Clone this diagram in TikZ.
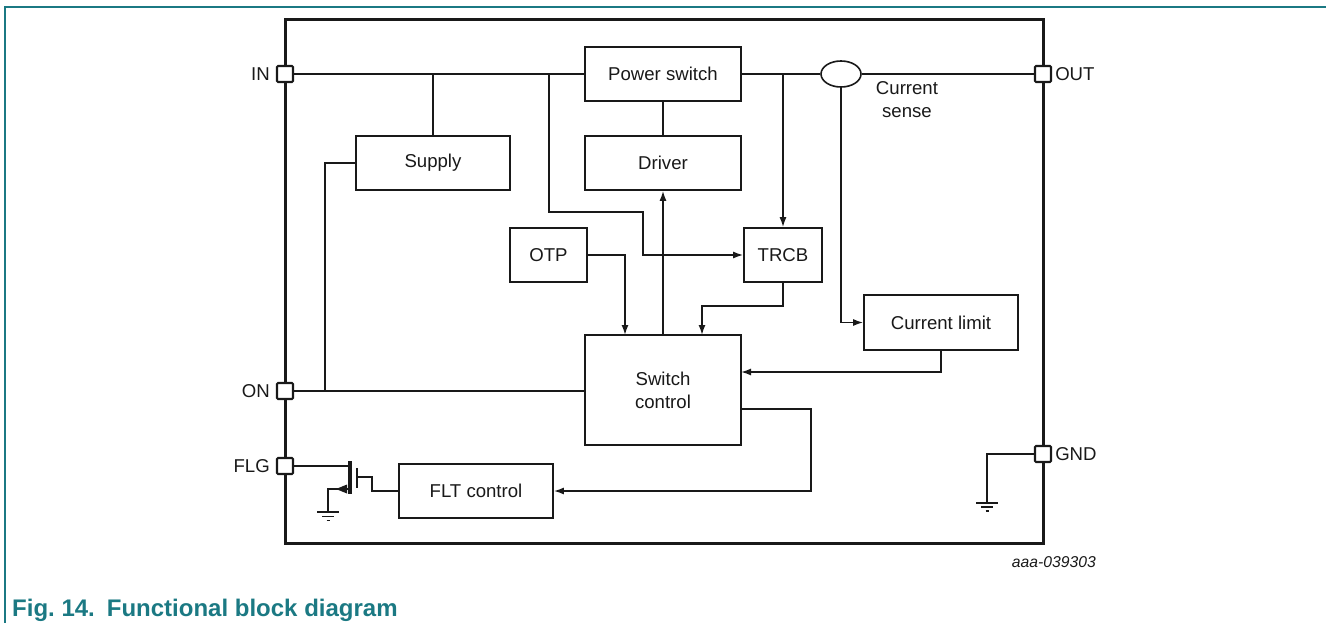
\documentclass[tikz,border=0pt]{standalone}
\usepackage{fontspec}
\setmainfont{Liberation Sans}
\usetikzlibrary{arrows.meta,shapes.geometric,positioning}
\definecolor{teal1}{RGB}{27,121,131}
\definecolor{ink}{RGB}{25,25,25}
\begin{document}
\begin{tikzpicture}[x=1pt,y=-1pt,
  font=\fontsize{18.6}{23}\selectfont,
  blk/.style={draw=ink, fill=white, line width=1.6pt, minimum width=156pt, minimum height=54pt, inner sep=0pt, align=center, text=ink},
  wire/.style={draw=ink, line width=1.6pt},
  arr/.style={wire, -{Latex[length=10pt,width=7pt]}},
  pin/.style={draw=ink, fill=white, line width=2.1pt, minimum size=16pt, inner sep=0pt, rounded corners=1pt},
  lbl/.style={inner sep=0pt, text=ink}]
\useasboundingbox (0,0) rectangle (1326,623);
% outer teal frame
\draw[teal1, line width=2pt] (5,623) -- (5,7.5) -- (1326,7.5);
% chip outline
\draw[ink, line width=3pt] (285,20) rectangle (1043,543);
% blocks
\node[blk] (PS) at (663,74) {Power switch};
\node[blk] (DRV) at (663,163) {Driver};
\node[blk, minimum width=154pt] (SUP) at (433,163) {Supply};
\node[blk, minimum width=77pt] (OTP) at (548.5,255) {OTP};
\node[blk, minimum width=78pt] (TRCB) at (783,255) {TRCB};
\node[blk, minimum height=110pt] (SC) at (663,390) {Switch\\control};
\node[blk, minimum width=154pt, minimum height=55pt] (CL) at (941,322.5) {Current limit};
\node[blk, minimum width=154pt] (FLT) at (476,491) {FLT control};
\node[draw=ink, fill=white, ellipse, minimum width=40pt, minimum height=26pt, inner sep=0pt, line width=1.6pt] (CS) at (841,74) {};
% pins
\node[pin] (pIN) at (285,74) {};
\node[pin] (pON) at (285,391) {};
\node[pin] (pFLG) at (285,466) {};
\node[pin] (pOUT) at (1043,74) {};
\node[pin] (pGND) at (1043,454) {};
% pin labels
\node[lbl, left=6pt of pIN] (tIN) {IN};
\node[lbl, left=6pt of pON] (tON) {ON};
\node[lbl, left=6pt of pFLG] (tFLG) {FLG};
\node[lbl, right=3pt of pOUT] (tOUT) {OUT};
\node[lbl, right=3pt of pGND] (tGND) {GND};
\node[lbl, align=center] (tCS) at (907,99.5) {Current\\sense};
% junction / bend coordinates
\coordinate (b1) at (549,74);
\coordinate (b2) at (325,391);
\coordinate (sc1) at (625,335);
\coordinate (sc2) at (702,335);
\coordinate (sc3) at (741,372);
\coordinate (sc4) at (741,409);
% IN bus
\draw[wire] (pIN.east) -- (pIN.east -| PS.west);
\draw[wire] (SUP.north |- pIN) -- (SUP.north);
\draw[arr] (b1) -- (549,212) -- (643,212) -- (643,255) -- (TRCB.west);
% output path
\draw[wire] (PS.east) -- (CS.west);
\draw[wire] (CS.east) -- (pOUT.west);
\draw[arr] (TRCB.north |- PS.east) -- (TRCB.north);
\draw[arr] (CS.south) |- (CL.west);
% driver
\draw[wire] (PS.south) -- (DRV.north);
\draw[arr] (SC.north) -- (DRV.south);
% into switch control
\draw[arr] (OTP.east) -| (sc1);
\draw[arr] (TRCB.south) -- (783,306) -| (sc2);
\draw[arr] (CL.south) |- (sc3);
\draw[arr] (sc4) -- (811,409) |- (FLT.east);
% ON
\draw[wire] (pON.east) -- (pON.east -| SC.west);
\draw[wire] (b2) |- (SUP.west);
% FLG transistor
\draw[wire] (pFLG.east) -- (350,466);
\draw[ink, line width=3.2pt] (350,461) -- (350,494);
\draw[ink, line width=1.8pt] (357,468) -- (357,488);
\draw[wire] (357,477) -- (372,477) -- (372,491) -- (FLT.west);
\draw[wire] (348.5,489) -- (328,489) -- (328,512);
\fill[ink] (336,489) -- (347,484.5) -- (347,493.5) -- cycle;
\draw[wire] (317,512) -- (339,512) (322,516.5) -- (334,516.5) (326.5,520.5) -- (329.5,520.5);
% GND
\draw[wire] (pGND.west) -| (987,503);
\draw[wire] (976,503) -- (998,503) (981,507) -- (993,507) (985.5,511) -- (988.5,511);
% reference code and caption
\node[anchor=east, inner sep=0pt, text=ink, font=\itshape\fontsize{15.7}{18}\selectfont] (ref) at (1096,562) {aaa-039303};
\node[anchor=base west, inner sep=0pt, text=teal1, font=\bfseries\fontsize{24}{28}\selectfont] (cap) at (12,616) {Fig.~14.\hspace*{12pt}Functional block diagram};
\end{tikzpicture}
\end{document}
